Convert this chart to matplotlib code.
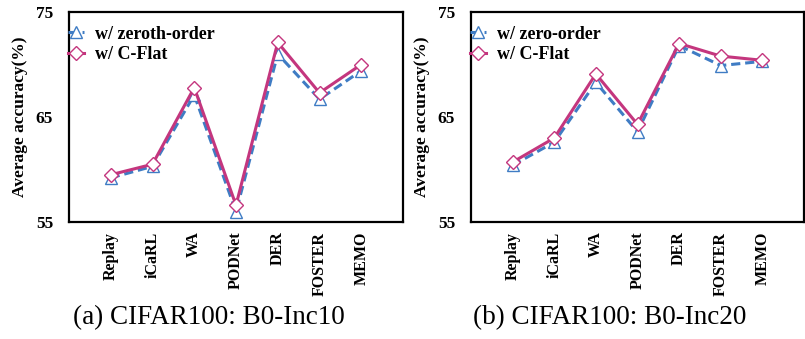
import matplotlib
matplotlib.use("Agg")
import matplotlib.pyplot as plt

methods = ["Replay", "iCaRL", "WA", "PODNet", "DER", "FOSTER", "MEMO"]
a_zeroth = [59.2, 60.3, 67.1, 56.0, 71.0, 66.7, 69.4]
a_cflat = [59.5, 60.5, 67.8, 56.6, 72.1, 67.3, 70.0]
b_zero = [60.4, 62.6, 68.3, 63.6, 71.8, 69.9, 70.3]
b_cflat = [60.7, 63.0, 69.1, 64.3, 72.0, 70.8, 70.4]
yticks = [55, 65, 75]
captions = ["(a) CIFAR100: B0-Inc10", "(b) CIFAR100: B0-Inc20"]
labels_a = ["w/ zeroth-order", "w/ C-Flat"]
labels_b = ["w/ zero-order", "w/ C-Flat"]

plt.rcParams['font.family'] = ['Liberation Serif', 'DejaVu Serif']

BLUE = "#3f7cc4"
PINK = "#c4367e"

fig = plt.figure(figsize=(8.05, 3.39), dpi=100)
ax1 = fig.add_axes([69/805, 1-222/339, (403-69)/805, 210/339])
ax2 = fig.add_axes([471/805, 1-222/339, (804-471)/805, 210/339])
cap_x = [209/805, 610/805]

for i, (ax, z, c, labs, cap) in enumerate([(ax1, a_zeroth, a_cflat, labels_a, captions[0]),
                                           (ax2, b_zero, b_cflat, labels_b, captions[1])]):
    x = list(range(1, len(methods) + 1))
    ax.plot(x, z, color=BLUE, linestyle=(0, (3, 1.6)), linewidth=2.2,
            marker='^', markersize=8, markerfacecolor='white',
            markeredgecolor=BLUE, markeredgewidth=1.0, label=labs[0])
    ax.plot(x, c, color=PINK, linestyle='-', linewidth=2.2,
            marker='D', markersize=7, markerfacecolor='white',
            markeredgecolor=PINK, markeredgewidth=1.0, label=labs[1])
    ax.set_xlim(0, 8)
    ax.set_ylim(55, 75)
    ax.set_yticks(yticks)
    ax.set_yticklabels([str(t) for t in yticks], fontsize=12.5, fontweight='bold')
    ax.set_xticks(x)
    ax.set_xticklabels(methods, rotation=90, fontsize=11.5, fontweight='bold')
    ax.tick_params(axis='both', length=0)
    ax.tick_params(axis='y', pad=11.5)
    ax.tick_params(axis='x', pad=7)
    for s in ax.spines.values():
        s.set_linewidth(1.6)
        s.set_color('black')
    ax.set_ylabel("Average accuracy(%)", fontsize=12.5, fontweight='bold')
    ax.yaxis.set_label_coords(-0.122, 0.5)
    ax.legend(loc='upper left', frameon=False,
              prop={'weight': 'bold', 'size': 13},
              handlelength=0.9, handletextpad=0.6,
              borderaxespad=0.0, bbox_to_anchor=(-0.025, 0.97),
              labelspacing=0.2)
    fig.text(cap_x[i], 1-318/339, cap, ha='center', va='center', fontsize=19.5)

fig.savefig("out.png", dpi=100)
